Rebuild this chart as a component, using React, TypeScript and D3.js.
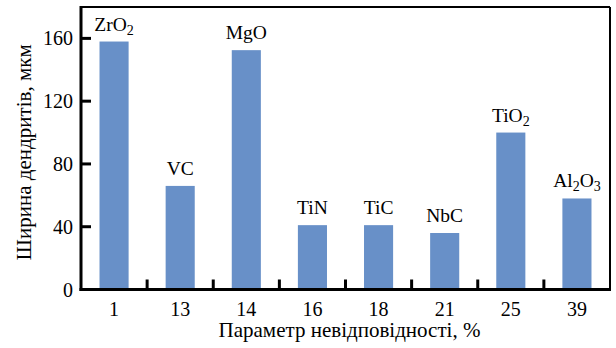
import React from "react";
import * as d3 from "d3";

const categories = ["1", "13", "14", "16", "18", "21", "25", "39"];
const values = [158, 66, 152.5, 41, 41, 36, 100, 58];
const materials: [string, string, string][] = [
  ["ZrO", "2", ""],
  ["VC", "", ""],
  ["MgO", "", ""],
  ["TiN", "", ""],
  ["TiC", "", ""],
  ["NbC", "", ""],
  ["TiO", "2", ""],
  ["Al", "2", "O|3"],
];
const yTicks = [0, 40, 80, 120, 160];
const yTitle = "Ширина дендритів, мкм";
const xTitle = "Параметр невідповідності, %";

const W = 616, H = 348;
const left = 81, right = 610, top = 7, bottom = 289.5;
const FONT = "'Liberation Serif', 'Times New Roman', serif";

export default function App() {
  const x = d3.scaleBand<string>().domain(categories).range([left, right]).paddingInner(0.56).paddingOuter(0.28);
  const xStep = d3.scaleBand<string>().domain(categories).range([left, right]);
  const y = d3.scaleLinear().domain([0, 180]).range([bottom, top]);

  const renderLabel = (m: [string, string, string]) => {
    const [a, sub, rest] = m;
    const parts: React.ReactNode[] = [<tspan key="a">{a}</tspan>];
    if (sub) parts.push(<tspan key="s" dy={4} fontSize={14}>{sub}</tspan>);
    if (rest) {
      const [r, rs] = rest.split("|");
      parts.push(<tspan key="r" dy={-4}>{r}</tspan>);
      if (rs) parts.push(<tspan key="rs" dy={4} fontSize={14}>{rs}</tspan>);
    }
    return parts;
  };

  const ts = { fontFamily: FONT };

  return (
    <svg width={W} height={H} style={{ position: "absolute", left: 0, top: 0, background: "#fff", fontFamily: FONT }}>
      <rect x={0} y={0} width={W} height={H} fill="#fff" />
      {categories.map((c, i) => (
        <g key={c}>
          <rect x={x(c)} y={y(values[i])} width={x.bandwidth()} height={bottom - y(values[i])} fill="#6890c8" />
          <text style={ts} x={(x(c) as number) + x.bandwidth() / 2} y={y(values[i]) - 11} textAnchor="middle" fontSize={19.5} fill="#000">
            {renderLabel(materials[i])}
          </text>
          <text style={ts} x={(x(c) as number) + x.bandwidth() / 2} y={316} textAnchor="middle" fontSize={20} fill="#000">{c}</text>
        </g>
      ))}
      <line x1={left} x2={right} y1={top} y2={top} stroke="#000" strokeWidth={2} />
      <line x1={right} x2={right} y1={top} y2={bottom} stroke="#000" strokeWidth={2} />
      <line x1={left} x2={left} y1={top - 1} y2={bottom + 1.5} stroke="#000" strokeWidth={3} />
      <line x1={left - 1.5} x2={right + 1} y1={bottom} y2={bottom} stroke="#000" strokeWidth={3} />
      {yTicks.map((t) => (
        <g key={t}>
          {t > 0 && <line x1={left} x2={left + 10} y1={y(t)} y2={y(t)} stroke="#000" strokeWidth={3} />}
          <text style={ts} x={73} y={y(t) + 7} textAnchor="end" fontSize={20} fill="#000">{t}</text>
        </g>
      ))}
      {categories.slice(1).map((c) => (
        <line key={c} x1={xStep(c)} x2={xStep(c)} y1={bottom} y2={bottom - 10} stroke="#000" strokeWidth={3} />
      ))}
      <text style={ts} x={(left + right) / 2 + 4} y={337} textAnchor="middle" fontSize={21} fill="#000">{xTitle}</text>
      <text style={ts} transform={`translate(31, ${(top + bottom) / 2 + 4}) rotate(-90)`} textAnchor="middle" fontSize={21} fill="#000">{yTitle}</text>
    </svg>
  );
}
